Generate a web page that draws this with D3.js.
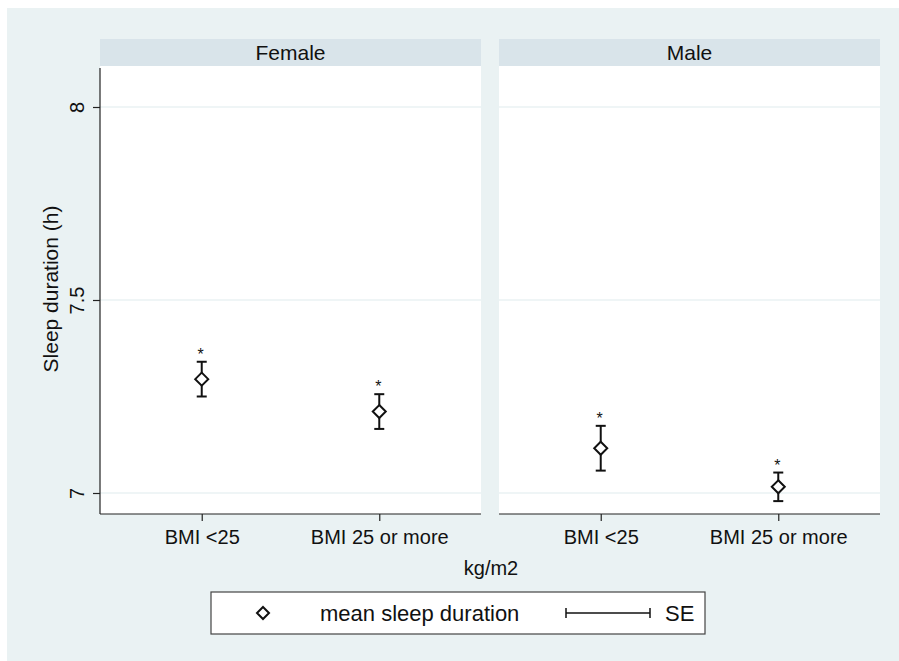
<!DOCTYPE html>
<html lang="en">
<head>
  <meta charset="UTF-8">
  <title>Sleep duration by BMI</title>
  <style>
    body { margin: 0; background: #fff; font-family: 'Liberation Sans', Arial, sans-serif; }
    svg text { fill: #111; }
  </style>
</head>
<body>
  <svg id="chart" width="899" height="661"></svg>
  <script src="https://d3js.org/d3.v7.min.js"></script>
  <script>
    // data
    const panels = ['Female', 'Male'];
    const categories = ['BMI <25', 'BMI 25 or more'];
    const femaleMean = [7.295, 7.211];
    const femaleSE = [0.045, 0.045];
    const maleMean = [7.116, 7.016];
    const maleSE = [0.058, 0.037];
    const yTicks = [7, 7.5, 8];

    const series = { Female: [femaleMean, femaleSE], Male: [maleMean, maleSE] };
    const font = "'Liberation Sans', Arial, sans-serif";

    const svg = d3.select('#chart');
    const W = 899, H = 661;

    // graph region background
    svg.append('rect').attr('x', 7).attr('y', 8).attr('width', W - 7).attr('height', H - 8).attr('fill', '#eaf2f3');

    const plotTop = 66, plotBottom = 514, panelW = 381;
    const panelX = [100, 499];

    const y = d3.scaleLinear().domain([7, 8]).range([493, 107]);

    panels.forEach((name, i) => {
      const x0 = panelX[i];
      const g = svg.append('g').attr('transform', `translate(${x0},0)`);
      const x = d3.scalePoint().domain(categories).range([0, panelW]).padding(0.573);

      // strip
      g.append('rect').attr('x', 0).attr('y', 39).attr('width', panelW).attr('height', plotTop - 39).attr('fill', '#d9e4ea');
      g.append('text').attr('x', panelW / 2).attr('y', 60).attr('text-anchor', 'middle')
        .attr('font-size', 21).text(name);

      // plot region
      g.append('rect').attr('x', 0).attr('y', plotTop).attr('width', panelW).attr('height', plotBottom - plotTop).attr('fill', '#fff');

      // grid
      g.selectAll('line.grid').data(yTicks).enter().append('line')
        .attr('x1', 0).attr('x2', panelW)
        .attr('y1', d => y(d)).attr('y2', d => y(d))
        .attr('stroke', '#eaf2f3').attr('stroke-width', 1.5);

      // x axis
      const xAxis = g.append('g').attr('transform', `translate(0,${plotBottom})`)
        .call(d3.axisBottom(x).tickSize(7).tickPadding(9));
      xAxis.select('.domain').attr('stroke', '#222').attr('stroke-width', 1.2).attr('d', `M0,0H${panelW}`);
      xAxis.selectAll('.tick line').attr('stroke', '#222').attr('stroke-width', 1.2);
      xAxis.selectAll('text').attr('font-size', 20).attr('font-family', font).attr('fill', '#111');

      // y axis on first panel only
      if (i === 0) {
        const yAxis = g.append('g')
          .call(d3.axisLeft(y).tickValues(yTicks).tickSize(7).tickPadding(10).tickFormat(d3.format('')));
        yAxis.select('.domain').attr('d', `M0,${plotTop + 2}V${plotBottom}`).attr('stroke', '#222').attr('stroke-width', 1.2);
        yAxis.selectAll('.tick line').attr('stroke', '#222').attr('stroke-width', 1.2);
        yAxis.selectAll('.tick text')
          .attr('font-size', 20).attr('font-family', font).attr('fill', '#111')
          .attr('text-anchor', 'middle').attr('x', null).attr('dy', null)
          .attr('transform', 'translate(-23,0) rotate(-90)')
          .attr('dominant-baseline', 'central');
      }

      const [means, ses] = series[name];
      const pts = categories.map((c, k) => ({ c, m: means[k], se: ses[k] }));
      const mk = g.selectAll('g.pt').data(pts).enter().append('g')
        .attr('transform', d => `translate(${x(d.c)},0)`);

      // error bars
      mk.append('line').attr('x1', 0).attr('x2', 0)
        .attr('y1', d => y(d.m + d.se)).attr('y2', d => y(d.m - d.se))
        .attr('stroke', '#111').attr('stroke-width', 2);
      mk.append('line').attr('x1', -5).attr('x2', 5)
        .attr('y1', d => y(d.m + d.se)).attr('y2', d => y(d.m + d.se))
        .attr('stroke', '#111').attr('stroke-width', 2);
      mk.append('line').attr('x1', -5).attr('x2', 5)
        .attr('y1', d => y(d.m - d.se)).attr('y2', d => y(d.m - d.se))
        .attr('stroke', '#111').attr('stroke-width', 2);

      // diamond
      mk.append('path')
        .attr('d', 'M0,-6.5L6.5,0L0,6.5L-6.5,0Z')
        .attr('transform', d => `translate(0,${y(d.m)})`)
        .attr('fill', '#fff').attr('stroke', '#111').attr('stroke-width', 2);

      // star
      mk.append('text').attr('text-anchor', 'middle')
        .attr('x', -1)
        .attr('y', d => y(d.m + d.se) - 2)
        .attr('font-size', 16).text('*');
    });

    // y title
    svg.append('text').attr('transform', 'translate(58,289) rotate(-90)')
      .attr('text-anchor', 'middle').attr('font-size', 21).text('Sleep duration (h)');

    // x title
    svg.append('text').attr('x', 491).attr('y', 575).attr('text-anchor', 'middle')
      .attr('font-size', 20).text('kg/m2');

    // legend
    const lg = svg.append('g');
    lg.append('rect').attr('x', 211).attr('y', 592).attr('width', 494).attr('height', 42)
      .attr('fill', '#fff').attr('stroke', '#444').attr('stroke-width', 1.2);
    lg.append('path').attr('d', 'M263,607L269,613L263,619L257,613Z')
      .attr('fill', '#fff').attr('stroke', '#111').attr('stroke-width', 2);
    lg.append('text').attr('x', 320).attr('y', 621).attr('font-size', 22).text('mean sleep duration');
    lg.append('line').attr('x1', 566).attr('x2', 650).attr('y1', 613).attr('y2', 613).attr('stroke', '#111').attr('stroke-width', 1.5);
    lg.append('line').attr('x1', 566).attr('x2', 566).attr('y1', 608).attr('y2', 618).attr('stroke', '#111').attr('stroke-width', 1.5);
    lg.append('line').attr('x1', 650).attr('x2', 650).attr('y1', 608).attr('y2', 618).attr('stroke', '#111').attr('stroke-width', 1.5);
    lg.append('text').attr('x', 665).attr('y', 621).attr('font-size', 22).text('SE');
  </script>
</body>
</html>
